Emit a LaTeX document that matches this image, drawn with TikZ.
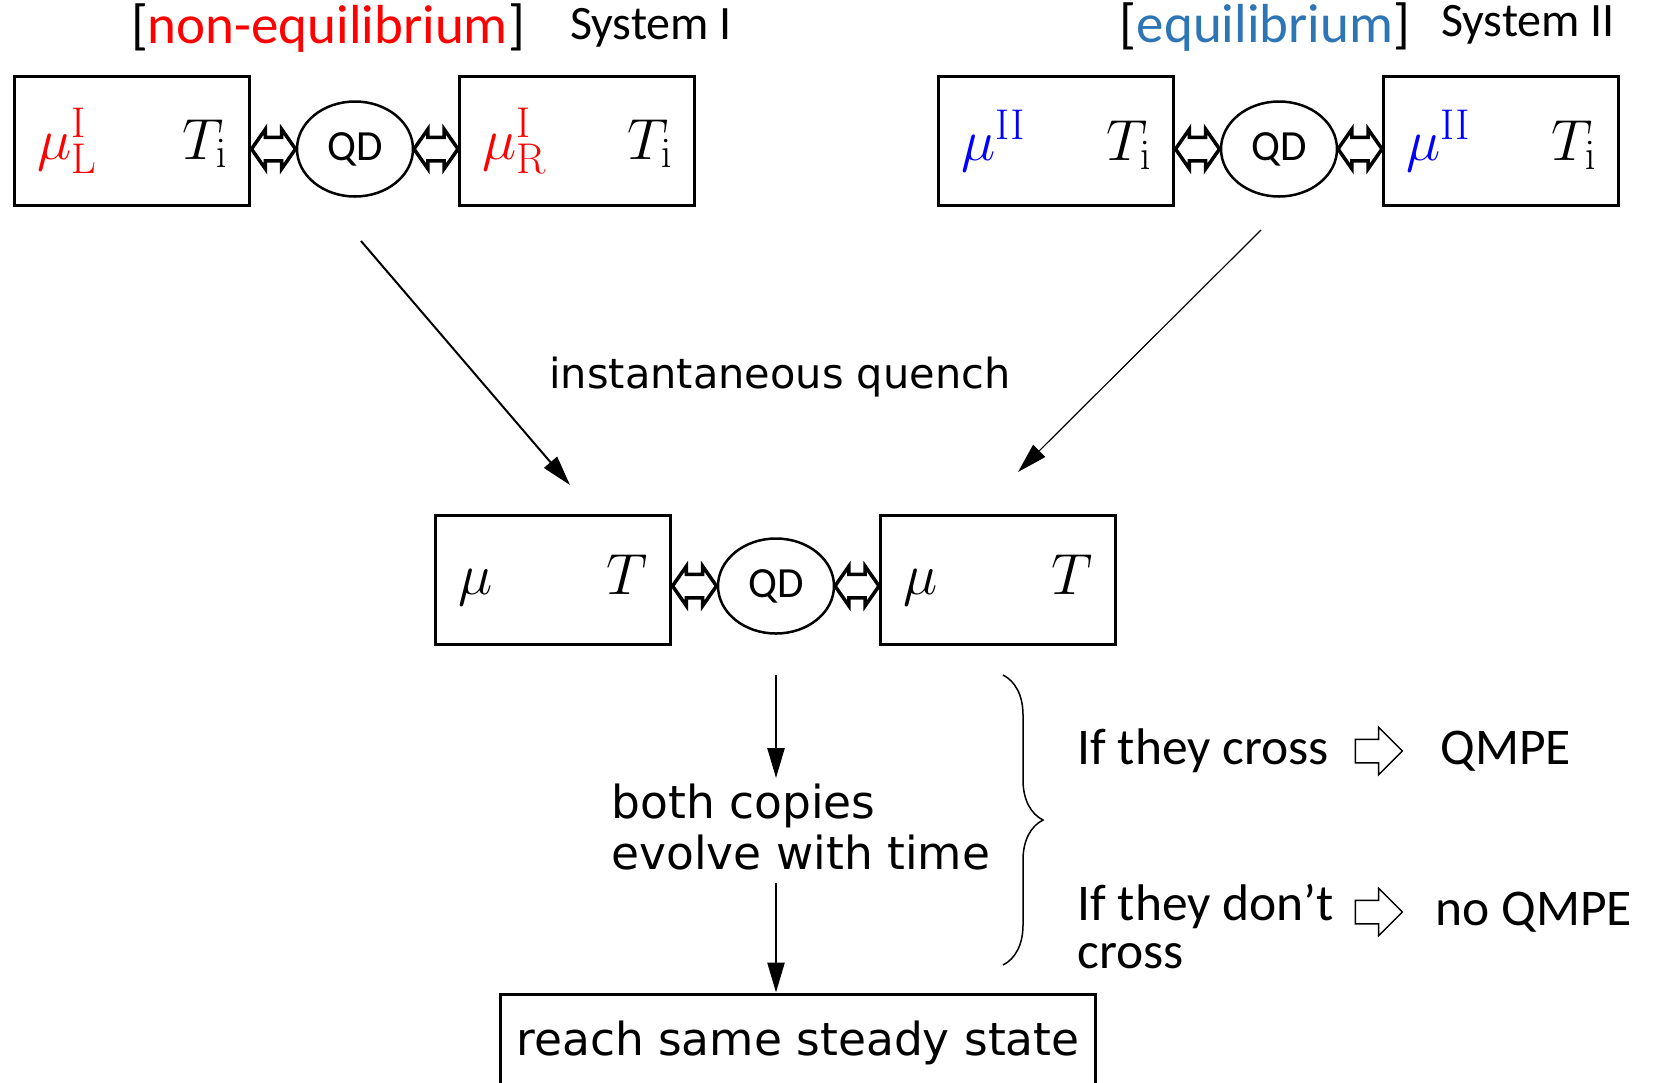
\RequirePackage{fix-cm}
\documentclass[tikz,border=0pt]{standalone}
\usepackage[no-math]{fontspec}
\setmainfont{Carlito}
\newfontfamily\dejavu{DejaVu Sans}
\usepackage{xcolor}
\definecolor{rojo}{RGB}{255, 0, 0}
\definecolor{azul}{RGB}{46, 117, 182}
\definecolor{azulmu}{RGB}{0, 0, 255}
\usetikzlibrary{positioning, shapes.geometric, shapes.arrows, arrows.meta, decorations.pathreplacing}
\DeclareMathSizes{58}{58}{43}{33}
\newcommand{\inbox}[2]{\makebox[190pt]{#1\hfill#2}}

\begin{document}
\begin{tikzpicture}[x=1pt, y=-1pt,
  reservoir/.style={rectangle, draw, line width=3.5pt, minimum width=235pt, minimum height=129pt, inner sep=0pt, font=\fontsize{58}{60}\selectfont},
  dot/.style={ellipse, draw, line width=2.5pt, minimum width=116pt, minimum height=95pt, inner sep=0pt, font=\fontsize{43}{48}\selectfont},
  twoway/.style={double arrow, draw, fill=white, line width=3.5pt, minimum height=44pt, inner xsep=0pt, inner ysep=10pt, double arrow head extend=8pt, double arrow tip angle=110},
  arr/.style={line width=2pt, -{Triangle[length=30pt, width=17pt]}},
  big/.style={font=\fontsize{48}{56}\selectfont},
  tag/.style={font=\fontsize{55}{60}\selectfont},
  side/.style={font=\fontsize{51.5}{48}\selectfont, align=left},
  txt/.style={font=\dejavu\fontsize{45.5}{51}\selectfont, align=left},
  hollow/.style={single arrow, draw, line width=1.5pt, minimum height=47pt, inner xsep=0pt, inner ysep=11pt, single arrow head extend=12pt}
]
  \useasboundingbox (0,0) rectangle (1653,1082);

  % system I
  \node[tag] (noneq) at (328,28) {[\textcolor{rojo}{non-equilibrium}]};
  \node[big] (sysI) at (651,28) {System I};
  \node[reservoir] (LI) at (132,141) {\inbox{$\color{rojo}\mu^{\mathrm{I}}_{\mathrm{L}}$}{$T_{\mathrm{i}}$}};
  \node[dot] (qdI) at (355,149) {QD};
  \node[reservoir] (RI) at (577,141) {\inbox{$\color{rojo}\mu^{\mathrm{I}}_{\mathrm{R}}$}{$T_{\mathrm{i}}$}};
  \path (LI.east |- qdI) -- node[twoway]{} (qdI.west);
  \path (qdI.east) -- node[twoway]{} (RI.west |- qdI);

  % system II
  \node[tag] (eq) at (1265,27) {[\textcolor{azul}{equilibrium}]};
  \node[big] (sysII) at (1528,25) {System II};
  \node[reservoir] (LII) at (1056,141) {\inbox{$\color{azulmu}\mu^{\mathrm{II}}$}{$T_{\mathrm{i}}$}};
  \node[dot] (qdII) at (1279,149) {QD};
  \node[reservoir] (RII) at (1501,141) {\inbox{$\color{azulmu}\mu^{\mathrm{II}}$}{$T_{\mathrm{i}}$}};
  \path (LII.east |- qdII) -- node[twoway]{} (qdII.west);
  \path (qdII.east) -- node[twoway]{} (RII.west |- qdII);

  % after the quench
  \node[reservoir] (L) at (553,580) {\inbox{$\mu$}{$T$}};
  \node[dot] (qd) at (776,586) {QD};
  \node[reservoir] (R) at (998,580) {\inbox{$\mu$}{$T$}};
  \path (L.east |- qd) -- node[twoway]{} (qd.west);
  \path (qd.east) -- node[twoway]{} (R.west |- qd);

  \coordinate (fromI) at (361,241);
  \coordinate (toI) at (570,485);
  \coordinate (fromII) at (1261,230);
  \coordinate (toII) at (1018,472);
  \draw[arr] (fromI) -- (toI);
  \draw[arr, line width=1.2pt] (fromII) -- (toII);
  \node[txt, font=\dejavu\fontsize{41.5}{48}\selectfont] (quench) at (780,377) {instantaneous quench};

  \node[txt, anchor=west] (evolve) at (608,827) {both copies\\evolve with time};
  \node[txt, rectangle, draw, line width=3pt, minimum width=595pt, minimum height=98pt] (steady) at (798,1043) {reach same steady state};
  \coordinate (a1) at (776,675);
  \coordinate (a2) at (776,778);
  \coordinate (a3) at (776,883);
  \draw[arr, line width=2.5pt] (a1) -- (a2);
  \draw[arr, line width=2.5pt] (a3) -- (steady.north -| a3);

  % the two cases
  \coordinate (brtop) at (1003,675);
  \coordinate (brbot) at (1003,965);
  \draw[line width=1.5pt, decorate, decoration={brace, amplitude=40pt, aspect=0.5}] (brtop) -- (brbot);
  \node[side, anchor=west] (cross) at (1074,751) {If they cross};
  \node[hollow] (impI) at (1373,751) {};
  \node[side, anchor=west] (qmpe) at (1437,751) {QMPE};
  \node[side, anchor=west] (nocross) at (1074,927) {If they don’t\\cross};
  \node[hollow] (impII) at (1373,912) {};
  \node[side, anchor=west] (noqmpe) at (1432,912) {no QMPE};
\end{tikzpicture}
\end{document}
